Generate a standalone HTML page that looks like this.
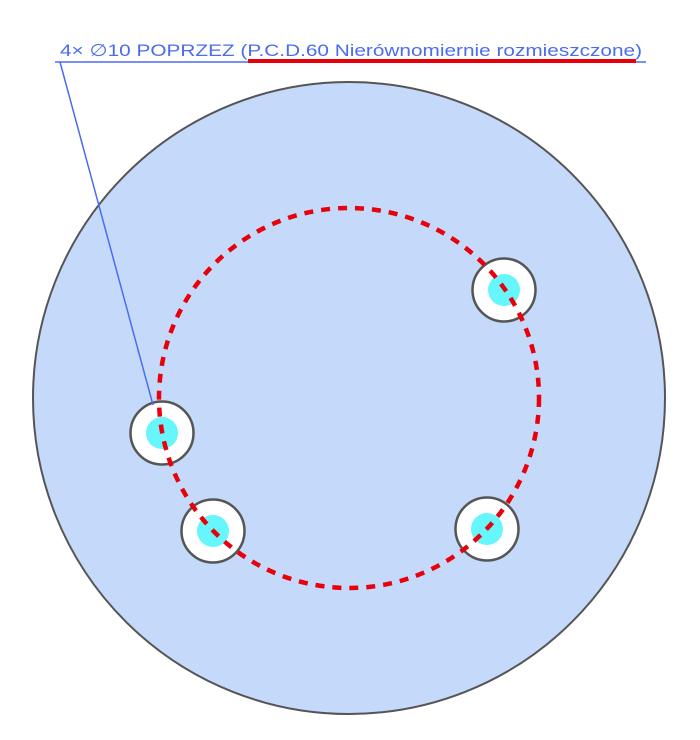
<!DOCTYPE html>
<html><head><meta charset="utf-8"><style>
html,body{margin:0;padding:0;background:#fff;width:700px;height:740px;overflow:hidden}
</style></head><body>
<svg width="700" height="740" viewBox="0 0 700 740" xmlns="http://www.w3.org/2000/svg">
<circle cx="349" cy="398" r="316" fill="#c5d9fa" stroke="#555" stroke-width="2"/>
<g stroke="#555" stroke-width="2.5" fill="#fff">
<circle cx="504" cy="290" r="31.5"/>
<circle cx="162" cy="433" r="31.5"/>
<circle cx="213" cy="531" r="31.5"/>
<circle cx="487" cy="529" r="31.5"/>
</g>
<g fill="#66f6fb">
<circle cx="504" cy="290" r="16"/>
<circle cx="162" cy="433" r="16"/>
<circle cx="213" cy="531" r="16"/>
<circle cx="487" cy="529" r="16"/>
</g>
<circle cx="349" cy="398" r="190" fill="none" stroke="#e8000b" stroke-width="4.5" stroke-dasharray="9 8"/>
<g stroke="#4a6cf0" stroke-width="1.5" fill="none">
<line x1="55" y1="62" x2="646" y2="62"/>
<line x1="60" y1="62" x2="153" y2="405"/>
</g>
<line x1="248" y1="61" x2="636" y2="61" stroke="#e8000b" stroke-width="4"/>
<text x="60" y="56" font-family="Liberation Sans, sans-serif" font-size="17" fill="#4a6cf0" textLength="582" lengthAdjust="spacingAndGlyphs">4× ∅10 POPRZEZ (P.C.D.60 Nierównomiernie rozmieszczone)</text>
</svg>
</body></html>
